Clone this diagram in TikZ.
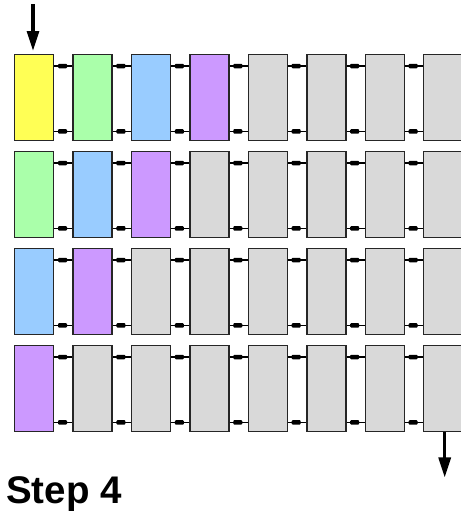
\documentclass[tikz,border=0pt]{standalone}
\usepackage{fontspec}
\setmainfont{Liberation Sans}
\usetikzlibrary{arrows.meta}
\definecolor{cellyellow}{RGB}{255,255,85}
\definecolor{cellgreen}{RGB}{170,255,170}
\definecolor{cellblue}{RGB}{153,204,255}
\definecolor{cellpurple}{RGB}{204,153,255}
\definecolor{cellgrey}{RGB}{217,217,217}
\begin{document}
\begin{tikzpicture}[x=1pt,y=-1pt,
  cell/.style={draw=black!85, line width=1.4pt, minimum width=39pt,
    minimum height=86pt, inner sep=0pt, anchor=north west},
  link/.style={line width=1.1pt, black},
  blob/.style={fill=black, draw=none, minimum width=9pt, minimum height=4.5pt,
    inner sep=0pt, rounded corners=1pt},
  flow/.style={line width=3.2pt, -{Triangle[length=20pt,width=12pt]}}]
\useasboundingbox (0,0) rectangle (461,512);

% pipeline stages: four rows of eight cells, the coloured data shifting left
\foreach \r in {1,...,4} {
  \foreach \c in {1,...,8} {
    \pgfmathtruncatemacro\k{\c+\r-1}
    \ifcase\k \def\fc{cellgrey}\or \def\fc{cellyellow}\or \def\fc{cellgreen}\or
      \def\fc{cellblue}\or \def\fc{cellpurple}\else \def\fc{cellgrey}\fi
    \node[cell, fill=\fc] (b-\r-\c) at ({14+58.43*(\c-1)}, {54+97*(\r-1)}) {};
  }
}

% links between neighbouring cells, upper and lower
\foreach \r in {1,...,4} {
  \foreach \c in {1,...,7} {
    \pgfmathtruncatemacro\cn{\c+1}
    \draw[link] ([yshift=-12pt]b-\r-\c.north east) -- ([yshift=-12pt]b-\r-\cn.north west)
      node[blob, pos=0.45] (t-\r-\c) {};
    \draw[link] ([yshift=10pt]b-\r-\c.south east) -- ([yshift=10pt]b-\r-\cn.south west)
      node[blob, pos=0.45] (u-\r-\c) {};
  }
}

% input and output arrows
\coordinate (in) at (33,4);
\draw[flow, shorten >=3pt] (in) -- (in |- b-1-1.north);
\coordinate (out) at ([xshift=1.5pt]b-4-8.south);
\draw[flow] (out) -- ++(0,45);

\node[anchor=base west, inner sep=0pt, font=\bfseries\fontsize{38.5}{38.5}\selectfont]
  (title) at (6,503) {Step 4};
\end{tikzpicture}
\end{document}
